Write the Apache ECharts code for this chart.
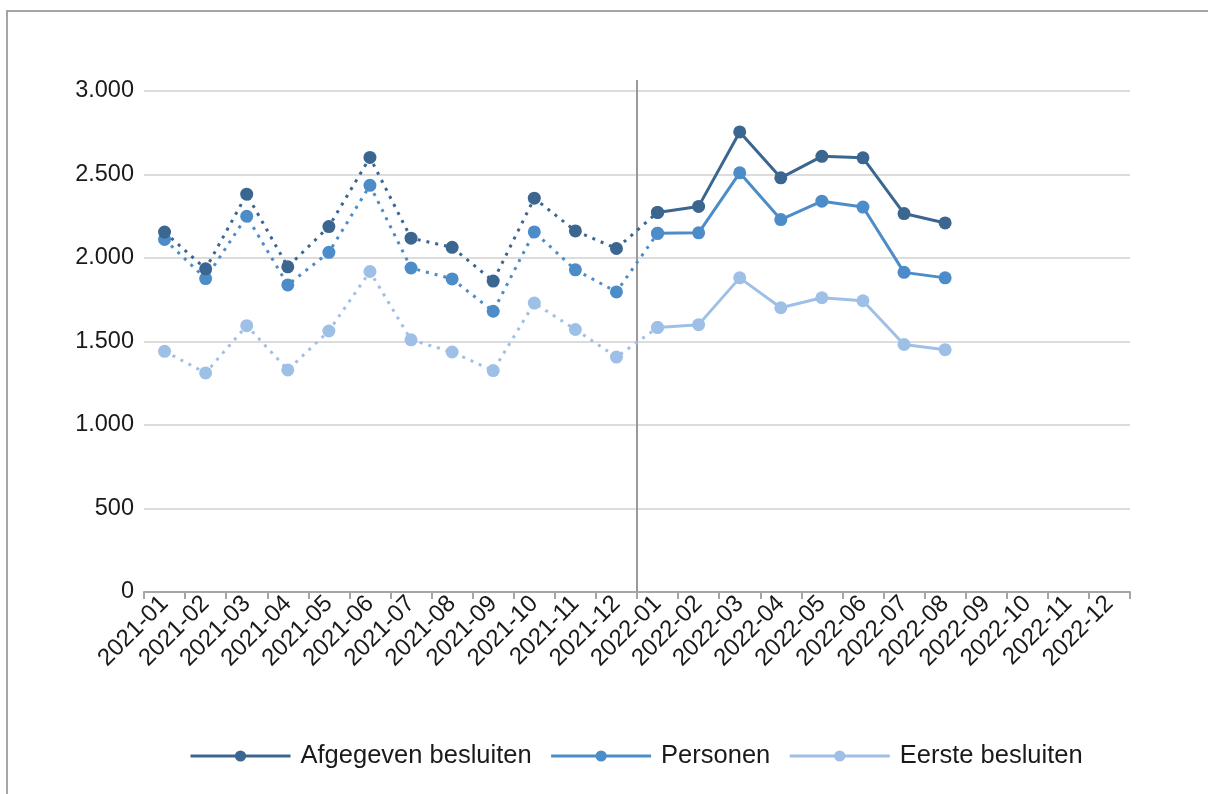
<!DOCTYPE html>
<html>
<head>
<meta charset="utf-8">
<script src="https://cdn.jsdelivr.net/npm/echarts@6/dist/echarts.min.js"></script>
<style>
html,body{margin:0;padding:0;background:#fff;}
#chart{width:1208px;height:794px;}
</style>
</head>
<body>
<div id="chart"></div>
<script>
var months = ['2021-01','2021-02','2021-03','2021-04','2021-05','2021-06','2021-07','2021-08','2021-09','2021-10','2021-11','2021-12',
              '2022-01','2022-02','2022-03','2022-04','2022-05','2022-06','2022-07','2022-08','2022-09','2022-10','2022-11','2022-12'];
var seriesNames = ['Afgegeven besluiten','Personen','Eerste besluiten'];
var afgegeven = [2155,1935,2382,1947,2188,2602,2119,2064,1862,2358,2162,2057, 2273,2309,2755,2480,2609,2600,2266,2210];
var personen  = [2111,1877,2250,1839,2034,2435,1940,1875,1681,2156,1929,1797, 2148,2151,2510,2230,2340,2305,1914,1881];
var eerste    = [1441,1312,1595,1330,1563,1919,1510,1437,1326,1730,1572,1407, 1584,1601,1881,1702,1762,1744,1482,1451];
var yTicks = {min:0, max:3000, interval:500};
var splitIndex = 12; // first month of 2022
var refLineTop = 3066;

var colors = ['#3a6690','#4c8cc9','#9fc0e6'];
var values = [afgegeven, personen, eerste];
var font = '"Liberation Sans", Arial, sans-serif';

function fmt(v){ return String(v).replace(/\B(?=(\d{3})+(?!\d))/g,'.'); }

var series = [];
values.forEach(function(arr, i){
  var d = months.map(function(m, k){ return (k >= splitIndex && k < arr.length) ? arr[k] : '-'; });
  series.push({
    name: seriesNames[i], type:'line', data:d, symbol:'circle', symbolSize:13,
    lineStyle:{color:colors[i], width:3}, itemStyle:{color:colors[i]},
    z: 5 - i, animation:false
  });
});
values.forEach(function(arr, i){
  var d = months.map(function(m, k){ return (k <= splitIndex) ? arr[k] : '-'; });
  series.push({
    name: seriesNames[i], type:'line', data:d, symbol:'circle', symbolSize:13,
    lineStyle:{color:colors[i], width:3, type:[3,6]}, itemStyle:{color:colors[i]},
    z: 4 - i, animation:false
  });
});
series.push({
  name:'ref', type:'line', xAxisIndex:1, yAxisIndex:0, clip:false, silent:true,
  symbol:'none', data:[[splitIndex,0],[splitIndex,refLineTop]],
  lineStyle:{color:'#9a9a9a', width:2}, z:1, animation:false
});

var chart = echarts.init(document.getElementById('chart'));
chart.setOption({
  backgroundColor:'#fff',
  animation:false,
  graphic:[{type:'rect', shape:{x:7, y:11, width:1300, height:900},
            style:{fill:'none', stroke:'#a6a6a6', lineWidth:2}, silent:true}],
  grid:{left:144, right:78, top:91, bottom:202, containLabel:false},
  legend:{
    data:seriesNames, left:184, top:738, itemWidth:100, itemHeight:14, itemGap:18,
    lineStyle:{width:3},
    textStyle:{fontFamily:font, fontSize:25.5, color:'#1a1a1a', padding:[0,0,0,5]}
  },
  xAxis:[{
    type:'category', data:months, boundaryGap:true,
    axisLine:{lineStyle:{color:'#a6a6a6', width:2}},
    axisTick:{show:true, length:7, lineStyle:{color:'#a6a6a6', width:2}},
    axisLabel:{interval:0, rotate:45, margin:8, fontFamily:font, fontSize:24, color:'#1a1a1a'},
    splitLine:{show:false}
  },{
    type:'value', min:0, max:months.length, show:false
  }],
  yAxis:{
    type:'value', min:yTicks.min, max:yTicks.max, interval:yTicks.interval,
    axisLine:{show:false}, axisTick:{show:false},
    axisLabel:{formatter:fmt, margin:10, fontFamily:font, fontSize:23.5, color:'#1a1a1a'},
    splitLine:{lineStyle:{color:'#dcdcdc', width:2}}
  },
  series:series
});
</script>
</body>
</html>
